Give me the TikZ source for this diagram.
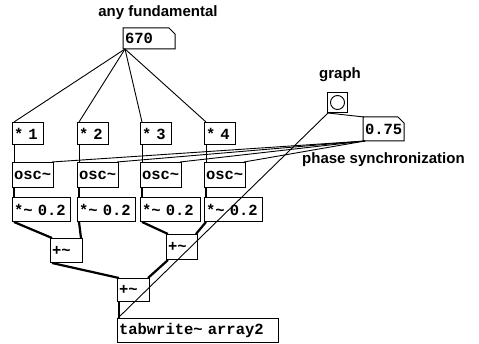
\documentclass[tikz,border=0pt]{standalone}
\usepackage{fontspec}
\setmainfont{Liberation Sans}
\newfontfamily\pdmono{Liberation Mono}
\newcommand\tld{\textasciitilde}
\begin{document}
\begin{tikzpicture}[x=1pt,y=-1pt,
  box/.style={draw, line width=1pt, anchor=north west, inner xsep=1.5pt, inner ysep=0pt, align=left,
    font={\pdmono\bfseries\fontsize{15.5}{16}\selectfont}},
  numbox/.style={box, draw=none},
  lbl/.style={font={\bfseries\fontsize{15}{16}\selectfont}, inner sep=0pt},
  ctl/.style={line width=0.9pt},
  sig/.style={line width=2.2pt},
  flag/.style={line width=1pt}
]
\useasboundingbox[fill=white] (0,0) rectangle (479,344);

% labels
\node[lbl] (lfund) at (158,13) {any fundamental};
\node[lbl] (lgraph) at (340,75) {graph};
\node[lbl, anchor=west] (lphase) at (302,160) {phase synchronization};

% number boxes
\node[numbox, text width=48, minimum height=20] (n670) at (123,28) {670};
\draw[flag] (n670.south west) -- (n670.north west) -- ([xshift=-6pt]n670.north east) -- ([yshift=-6pt]n670.north east) -- (n670.south east) -- cycle;
\node[numbox, text width=37, minimum height=23] (n075) at (363,117) {0.75};
\draw[flag] (n075.south west) -- (n075.north west) -- ([xshift=-6pt]n075.north east) -- ([yshift=-6pt]n075.north east) -- (n075.south east) -- cycle;

% toggle
\node[draw, line width=1pt, minimum size=20, inner sep=0pt, anchor=north west] (tgl) at (327,92) {};
\draw[line width=0.9pt] (tgl.center) circle (7);

% multipliers
\node[box, text width=28, minimum height=22] (m1) at (12,122) {* 1};
\node[box, text width=28, minimum height=22] (m2) at (77,122) {* 2};
\node[box, text width=28, minimum height=22] (m3) at (140,122) {* 3};
\node[box, text width=28, minimum height=22] (m4) at (204,122) {* 4};

% oscillators
\node[box, text width=38, minimum height=25] (o1) at (12,162) {osc\tld};
\node[box, text width=38, minimum height=25] (o2) at (77,162) {osc\tld};
\node[box, text width=38, minimum height=25] (o3) at (140,162) {osc\tld};
\node[box, text width=38, minimum height=25] (o4) at (204,162) {osc\tld};

% gains
\node[box, text width=55, minimum height=24] (g1) at (12,197) {*\tld{} 0.2};
\node[box, text width=55, minimum height=24] (g2) at (77,197) {*\tld{} 0.2};
\node[box, text width=57, minimum height=24] (g3) at (140,197) {*\tld{} 0.2};
\node[box, text width=55, minimum height=24] (g4) at (204,197) {*\tld{} 0.2};

% adders
\node[box, text width=29, minimum height=24] (aL) at (50,238) {+\tld};
\node[box, text width=28, minimum height=25] (aR) at (166,234) {+\tld};
\node[box, text width=29, minimum height=23] (aB) at (117,278) {+\tld};

% tabwrite
\node[box, text width=158, minimum height=24] (tw) at (117,318) {tabwrite\tld{} array2};

% control connections from 670
\foreach \m in {m1,m2,m3,m4}
  \draw[ctl] ([xshift=2pt]n670.south west) -- ([xshift=2pt]\m.north west);
% multipliers to oscillators
\foreach \i in {1,2,3,4}
  \draw[ctl] ([xshift=2pt]m\i.south west) -- ([xshift=2pt]o\i.north west);
% phase inlets
\foreach \i in {1,2,3,4}
  \draw[ctl] ([xshift=2pt]n075.south west) -- ([xshift=-2pt]o\i.north east);
% toggle connections
\draw[ctl] ([xshift=1pt]tgl.south west) -- ([xshift=1pt]n075.north west);
\draw[ctl] ([xshift=1pt]tgl.south west) -- ([xshift=1pt]tw.north west);

% signal connections
\foreach \i in {1,2,3,4}
  \draw[sig] ([xshift=2pt]o\i.south west) -- ([xshift=2pt]g\i.north west);
\draw[sig] ([xshift=2pt]g1.south west) -- ([xshift=2pt]aL.north west);
\draw[sig] ([xshift=2pt]g2.south west) -- ([xshift=-2pt]aL.north east);
\draw[sig] ([xshift=2pt]g3.south west) -- ([xshift=2pt]aR.north west);
\draw[sig] ([xshift=2pt]g4.south west) -- ([xshift=-2pt]aR.north east);
\draw[sig] ([xshift=2pt]aL.south west) -- ([xshift=2pt]aB.north west);
\draw[sig] ([xshift=2pt]aR.south west) -- ([xshift=-2pt]aB.north east);
\draw[sig] ([xshift=2pt]aB.south west) -- ([xshift=2pt]tw.north west);
\end{tikzpicture}
\end{document}
